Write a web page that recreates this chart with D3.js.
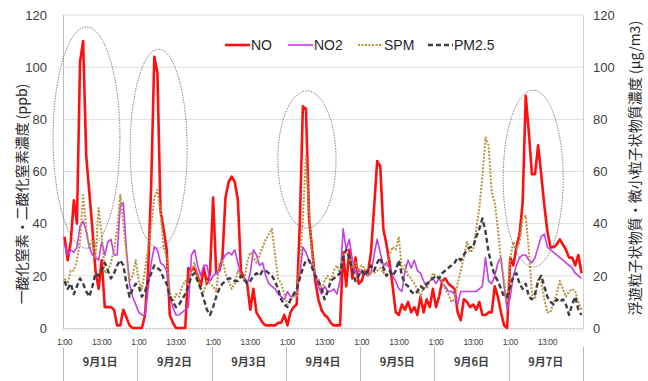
<!DOCTYPE html>
<html>
<head>
<meta charset="utf-8">
<script src="https://cdn.jsdelivr.net/npm/d3@7"></script>
<style>
  body { margin: 0; background: #fff; }
  svg { display: block; }
</style>
</head>
<body>
<svg id="chart" width="648" height="381"></svg>
<script>
// Hourly readings, 9月1日 1:00 – 9月7日 24:00 (24 values per day)
const days = ["9月1日", "9月2日", "9月3日", "9月4日", "9月5日", "9月6日", "9月7日"];
const hourLabels = ["1:00", "13:00"];
const hourLabelOffsets = [0, 12];
const yTicks = [0, 20, 40, 60, 80, 100, 120];

// NO (ppb)
const noValues = [
  35,26,33,49,40,102,110,66,52,38,22,15,26,8,8,8,7,1,1,7,4,1,0,0,
  0,0,5,22,55,104,98,45,38,30,5,2,0,0,0,0,23,22,23,20,16,23,17,21,
  50,21,22,27,50,56,58,56,49,22,19,17,7,15,6,4,2,1,1,1,1,2,2,5,
  1,6,8,9,40,85,84,42,30,18,11,7,5,4,2,1,1,1,29,16,30,19,27,17,
  18,22,21,29,46,64,62,38,32,25,16,6,5,9,7,10,6,8,5,12,6,11,8,15,
  8,12,18,19,17,16,15,6,3,11,10,8,9,7,10,5,5,6,6,16,12,6,1,0,
  27,24,31,36,48,89,75,59,59,70,59,47,37,31,31,32,34,32,30,27,27,24,28,21
];
// NO2 (ppb)
const no2Values = [
  32,28,30,29,31,39,41,37,31,28,27,26,33,28,33,34,28,28,47,48,30,17,12,9,
  6,5,5,15,25,31,30,25,24,22,12,8,5,5,6,7,8,28,30,24,20,24,24,18,
  20,21,22,26,28,29,28,30,25,20,19,17,21,30,28,24,25,20,17,16,15,13,12,11,
  14,12,12,14,20,31,29,26,24,21,16,13,16,14,14,15,13,18,38,30,34,26,21,22,
  21,21,20,21,28,34,29,24,25,23,20,18,15,14,22,26,23,26,22,21,18,16,18,19,
  17,19,17,16,14,14,13,9,14,14,14,14,14,14,15,16,27,18,17,20,25,27,16,7,
  12,20,24,27,28,28,26,25,27,31,35,36,31,30,29,28,27,26,25,24,23,21,20,19
];
// SPM (μg/m3)
const spmValues = [
  19,17,22,22,26,33,51,38,31,34,27,46,36,21,22,25,30,38,51,40,28,18,20,26,
  18,15,22,31,39,50,53,44,31,27,14,10,13,12,16,18,17,22,25,20,15,14,18,17,
  16,14,25,26,21,18,15,17,22,20,18,25,29,27,25,28,31,34,36,38,28,19,17,13,
  9,10,13,12,25,42,66,45,28,20,19,15,18,20,18,22,24,21,28,30,27,23,25,22,
  24,23,20,22,21,22,23,21,25,28,31,30,35,22,24,20,19,17,15,12,16,15,18,21,
  20,19,18,15,13,10,11,17,22,27,33,29,30,38,46,58,73,70,52,48,38,26,18,10,
  27,33,30,33,42,43,30,13,11,19,18,11,6,6,10,13,18,15,12,14,15,14,10,7
];
// PM2.5 (μg/m3)
const pm25Values = [
  18,15,17,13,16,19,17,14,12,16,21,20,22,25,22,19,21,24,26,24,17,12,15,17,
  16,12,14,18,21,24,23,22,19,17,12,10,8,9,11,13,16,20,21,18,15,11,7,5,
  8,12,15,17,18,19,19,18,18,20,19,17,18,20,21,20,22,22,21,20,18,15,11,9,
  8,11,13,15,19,23,26,26,23,20,18,15,11,14,18,19,20,21,27,30,27,22,18,20,
  22,20,22,24,22,25,27,23,20,22,20,22,26,20,17,16,14,13,14,16,15,17,18,19,
  20,19,21,22,23,24,25,27,26,28,30,31,31,35,38,42,37,29,24,20,18,15,12,12,
  16,20,21,17,15,17,12,11,13,18,20,16,12,10,9,11,10,11,9,5,9,12,7,5
];

// Peaks ringed on the chart: centre (hour index, value) and half-extent (hours, value)
const peakRings = [
  { hour: 7.1,   value: 73.0, hours: 10.8, span: 42.4 },
  { hour: 30.4,  value: 68.8, hours: 9.2,  span: 38.1 },
  { hour: 78.3,  value: 64.6, hours: 9.4,  span: 26.3 },
  { hour: 151.4, value: 57.3, hours: 9.7,  span: 33.9 }
];

const hoursPerDay = 24;
const nHours = days.length * hoursPerDay;

const margin = { left: 63, right: 65, top: 15, bottom: 53 };
const W = 648, H = 381;
const plotR = W - margin.right, plotB = H - margin.bottom;

const svg = d3.select("#chart");
const latin = "'Liberation Sans', Arial, sans-serif";
const cjk = "'Noto Sans CJK JP', 'Noto Sans', sans-serif";

// Scales: hourly categories, points at category centres
const xBand = d3.scaleBand().domain(d3.range(nHours)).range([margin.left, plotR]);
const x = i => xBand(i) + xBand.bandwidth() / 2;
const xh = d3.scaleLinear().domain([0, nHours]).range([margin.left, plotR]); // hour boundaries
const yL = d3.scaleLinear().domain([0, 120]).range([plotB, margin.top]);
const yR = d3.scaleLinear().domain([0, 120]).range([plotB, margin.top]);

// Horizontal gridlines
svg.append("g")
  .selectAll("line").data(yTicks.filter(t => t > 0)).join("line")
  .attr("x1", margin.left).attr("x2", plotR)
  .attr("y1", d => yL(d)).attr("y2", d => yL(d))
  .attr("stroke", "#dedede").attr("stroke-width", 1);

// Vertical axis lines
svg.append("line").attr("x1", margin.left + 0.5).attr("x2", margin.left + 0.5)
  .attr("y1", margin.top).attr("y2", plotB).attr("stroke", "#bdbdbd");
svg.append("line").attr("x1", plotR + 0.5).attr("x2", plotR + 0.5)
  .attr("y1", margin.top).attr("y2", plotB).attr("stroke", "#d0d0d0");

// Left value axis
const leftAxis = svg.append("g")
  .attr("transform", `translate(${margin.left},0)`)
  .call(d3.axisLeft(yL).tickValues(yTicks).tickSize(0).tickPadding(16));
leftAxis.select(".domain").remove();
leftAxis.selectAll("text").attr("font-family", latin).attr("font-size", 13).attr("fill", "#404040");

// Right value axis
const rightAxis = svg.append("g")
  .attr("transform", `translate(${plotR},0)`)
  .call(d3.axisRight(yR).tickValues(yTicks).tickSize(0).tickPadding(10));
rightAxis.select(".domain").remove();
rightAxis.selectAll("text").attr("font-family", latin).attr("font-size", 13).attr("fill", "#404040");

// Category axis baseline with a tick at every hour boundary
svg.append("line").attr("x1", margin.left).attr("x2", plotR)
  .attr("y1", plotB + 0.5).attr("y2", plotB + 0.5).attr("stroke", "#d4d4d4");
svg.append("g").selectAll("line").data(d3.range(nHours + 1)).join("line")
  .attr("x1", d => xh(d)).attr("x2", d => xh(d))
  .attr("y1", plotB).attr("y2", plotB + 3)
  .attr("stroke", "#cfcfcf").attr("stroke-width", 0.8);

// Hour labels
const hourTickIdx = [];
days.forEach((d, di) => hourLabelOffsets.forEach((o, k) => hourTickIdx.push({ i: di * hoursPerDay + o, label: hourLabels[k] })));
svg.append("g").selectAll("text").data(hourTickIdx).join("text")
  .attr("x", d => x(d.i)).attr("y", plotB + 17)
  .attr("text-anchor", "middle")
  .attr("font-family", latin).attr("font-size", 8.5).attr("letter-spacing", -0.4)
  .attr("fill", "#404040")
  .text(d => d.label);

// Day separators and labels
svg.append("g").selectAll("line").data(d3.range(days.length + 1)).join("line")
  .attr("x1", d => Math.round(xh(d * hoursPerDay)) + 0.5).attr("x2", d => Math.round(xh(d * hoursPerDay)) + 0.5)
  .attr("y1", plotB + 19).attr("y2", H)
  .attr("stroke", "#b8b8b8").attr("stroke-width", 1);
svg.append("g").selectAll("text").data(days).join("text")
  .attr("x", (d, i) => xh(i * hoursPerDay + hoursPerDay / 2)).attr("y", plotB + 38)
  .attr("text-anchor", "middle")
  .attr("font-family", cjk).attr("font-size", 11).attr("font-weight", 700)
  .attr("fill", "#404040")
  .text(d => d);

// Axis titles
svg.append("text")
  .attr("transform", "translate(21,194) rotate(-90)")
  .attr("text-anchor", "middle").attr("dominant-baseline", "central")
  .attr("font-family", cjk).attr("font-size", 14).attr("fill", "#262626")
  .text("一酸化窒素・二酸化窒素濃度 (ppb)");
svg.append("text")
  .attr("transform", "translate(634,168) rotate(-90)")
  .attr("text-anchor", "middle").attr("dominant-baseline", "central")
  .attr("font-family", cjk).attr("font-size", 14).attr("fill", "#262626")
  .text("浮遊粒子状物質・微小粒子状物質濃度 (μg/m3)");

// Series
const series = [
  { name: "NO",    values: noValues,   y: yL, color: "#ff1010", width: 2.6, dash: null },
  { name: "NO2",   values: no2Values,  y: yL, color: "#c23ee6", width: 1.6, dash: null },
  { name: "SPM",   values: spmValues,  y: yR, color: "#b89340", width: 2.0, dash: "2,1.5" },
  { name: "PM2.5", values: pm25Values, y: yR, color: "#3c3c44", width: 2.4, dash: "5,3" }
];

series.forEach(s => {
  const line = d3.line().x((d, i) => x(i)).y(d => s.y(d)).curve(d3.curveLinear);
  svg.append("path")
    .datum(s.values)
    .attr("d", line)
    .attr("fill", "none")
    .attr("stroke", s.color)
    .attr("stroke-width", s.width)
    .attr("stroke-linejoin", "round")
    .attr("stroke-dasharray", s.dash);
});

// Rings around the main NO peaks
svg.append("g").selectAll("ellipse").data(peakRings).join("ellipse")
  .attr("cx", d => xh(d.hour + 0.5))
  .attr("cy", d => yL(d.value))
  .attr("rx", d => xh(d.hours) - xh(0))
  .attr("ry", d => yL(0) - yL(d.span))
  .attr("fill", "none")
  .attr("stroke", "#444")
  .attr("stroke-width", 0.7)
  .attr("stroke-dasharray", "1.5,1.2");

// Legend
const legend = svg.append("g").attr("transform", "translate(225,45)");
const legendStarts = [0, 63, 133, 203];
series.forEach((s, k) => {
  const g = legend.append("g").attr("transform", `translate(${legendStarts[k]},0)`);
  g.append("line").attr("x1", 0).attr("x2", 25).attr("y1", 0).attr("y2", 0)
    .attr("stroke", s.color).attr("stroke-width", s.width).attr("stroke-dasharray", s.dash);
  g.append("text").attr("x", 26).attr("y", 0).attr("dominant-baseline", "central")
    .attr("font-family", latin).attr("font-size", 14).attr("fill", "#262626")
    .text(s.name);
});
</script>
</body>
</html>
